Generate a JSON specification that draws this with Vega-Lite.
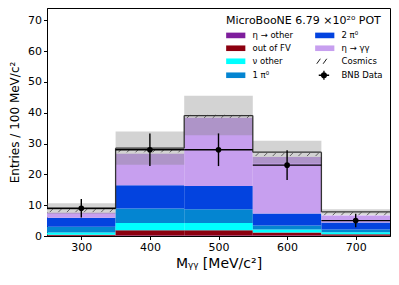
{
  "$schema": "https://vega.github.io/schema/vega-lite/v6.json",
  "width": 343,
  "height": 228,
  "autosize": "none",
  "padding": {"left": 47, "top": 8, "right": 9, "bottom": 49},
  "background": "white",
  "config": {
    "font": "DejaVu Sans",
    "view": {"stroke": "black", "strokeWidth": 1},
    "axis": {
      "grid": false,
      "domainColor": "black",
      "tickColor": "black",
      "labelColor": "black",
      "titleColor": "black",
      "tickSize": 3.5,
      "labelFontSize": 11,
      "labelPadding": 2,
      "titleFontWeight": "normal",
      "labelFont": "DejaVu Sans",
      "titleFont": "DejaVu Sans",
      "labelOverlap": false
    },
    "axisX": {"titleFontSize": 14, "titlePadding": 4},
    "axisY": {"titleFontSize": 12, "titlePadding": 6}
  },
  "datasets": {
    "stack": [
      {"bin": 300, "lo": 250, "hi": 350, "cat": "η → other", "value": 0.1},
      {"bin": 300, "lo": 250, "hi": 350, "cat": "out of FV", "value": 0.3},
      {"bin": 300, "lo": 250, "hi": 350, "cat": "ν other", "value": 0.7},
      {"bin": 300, "lo": 250, "hi": 350, "cat": "1 π⁰", "value": 1.9},
      {"bin": 300, "lo": 250, "hi": 350, "cat": "2 π⁰", "value": 2.9},
      {"bin": 300, "lo": 250, "hi": 350, "cat": "η → γγ", "value": 1.7},
      {"bin": 300, "lo": 250, "hi": 350, "cat": "Cosmics", "value": 1.3},
      {"bin": 400, "lo": 350, "hi": 450, "cat": "η → other", "value": 0.2},
      {"bin": 400, "lo": 350, "hi": 450, "cat": "out of FV", "value": 1.7},
      {"bin": 400, "lo": 350, "hi": 450, "cat": "ν other", "value": 2.3},
      {"bin": 400, "lo": 350, "hi": 450, "cat": "1 π⁰", "value": 4.7},
      {"bin": 400, "lo": 350, "hi": 450, "cat": "2 π⁰", "value": 7.6},
      {"bin": 400, "lo": 350, "hi": 450, "cat": "η → γγ", "value": 10.3},
      {"bin": 400, "lo": 350, "hi": 450, "cat": "Cosmics", "value": 1.7},
      {"bin": 500, "lo": 450, "hi": 550, "cat": "η → other", "value": 0.2},
      {"bin": 500, "lo": 450, "hi": 550, "cat": "out of FV", "value": 1.7},
      {"bin": 500, "lo": 450, "hi": 550, "cat": "ν other", "value": 2.3},
      {"bin": 500, "lo": 450, "hi": 550, "cat": "1 π⁰", "value": 4.5},
      {"bin": 500, "lo": 450, "hi": 550, "cat": "2 π⁰", "value": 7.5},
      {"bin": 500, "lo": 450, "hi": 550, "cat": "η → γγ", "value": 22.3},
      {"bin": 500, "lo": 450, "hi": 550, "cat": "Cosmics", "value": 0.6},
      {"bin": 600, "lo": 550, "hi": 650, "cat": "η → other", "value": 0.2},
      {"bin": 600, "lo": 550, "hi": 650, "cat": "out of FV", "value": 0.9},
      {"bin": 600, "lo": 550, "hi": 650, "cat": "ν other", "value": 1.0},
      {"bin": 600, "lo": 550, "hi": 650, "cat": "1 π⁰", "value": 1.3},
      {"bin": 600, "lo": 550, "hi": 650, "cat": "2 π⁰", "value": 3.9},
      {"bin": 600, "lo": 550, "hi": 650, "cat": "η → γγ", "value": 18.4},
      {"bin": 600, "lo": 550, "hi": 650, "cat": "Cosmics", "value": 1.5},
      {"bin": 700, "lo": 650, "hi": 750, "cat": "η → other", "value": 0.1},
      {"bin": 700, "lo": 650, "hi": 750, "cat": "out of FV", "value": 0.5},
      {"bin": 700, "lo": 650, "hi": 750, "cat": "ν other", "value": 0.6},
      {"bin": 700, "lo": 650, "hi": 750, "cat": "1 π⁰", "value": 0.9},
      {"bin": 700, "lo": 650, "hi": 750, "cat": "2 π⁰", "value": 2.3},
      {"bin": 700, "lo": 650, "hi": 750, "cat": "η → γγ", "value": 2.3},
      {"bin": 700, "lo": 650, "hi": 750, "cat": "Cosmics", "value": 1.1}
    ],
    "summary": [
      {"bin": 300, "lo": 250, "hi": 350, "total": 8.9, "err": 1.7, "data": 9, "derr": 3.0},
      {"bin": 400, "lo": 350, "hi": 450, "total": 28.5, "err": 5.4, "data": 28, "derr": 5.3},
      {"bin": 500, "lo": 450, "hi": 550, "total": 39.1, "err": 6.4, "data": 28, "derr": 5.3},
      {"bin": 600, "lo": 550, "hi": 650, "total": 27.2, "err": 3.7, "data": 23, "derr": 4.8},
      {"bin": 700, "lo": 650, "hi": 750, "total": 7.8, "err": 0.9, "data": 5, "derr": 2.2}
    ]
  },
  "layer": [
    {
      "data": {"name": "stack"},
      "transform": [
        {"calculate": "indexof(['η → other','out of FV','ν other','1 π⁰','2 π⁰','η → γγ','Cosmics'], datum.cat)", "as": "ord"},
        {"stack": "value", "groupby": ["bin"], "sort": [{"field": "ord", "order": "ascending"}], "as": ["y0", "y1"]}
      ],
      "mark": {"type": "rect", "strokeWidth": 0},
      "encoding": {
        "x": {"field": "lo", "type": "quantitative", "title": "Mᵧᵧ [MeV/c²]",
              "scale": {"domain": [250, 750], "nice": false, "zero": false},
              "axis": {"values": [300, 400, 500, 600, 700]}},
        "x2": {"field": "hi"},
        "y": {"field": "y0", "type": "quantitative", "title": "Entries / 100 MeV/c²",
              "scale": {"domain": [0, 74], "nice": false},
              "axis": {"values": [0, 10, 20, 30, 40, 50, 60, 70]}},
        "y2": {"field": "y1"},
        "color": {
          "field": "cat", "type": "nominal",
          "scale": {
            "domain": ["η → other", "out of FV", "ν other", "1 π⁰", "2 π⁰", "η → γγ", "Cosmics", "BNB Data"],
            "range": ["#7e1e9c", "#8c000f", "#00ffff", "#0485d1", "#0343df", "#c79fef", "#ffffff", "#000000"]
          },
          "legend": {
            "title": "MicroBooNE 6.79 ×10²⁰ POT",
            "orient": "top-right",
            "offset": 7,
            "padding": 0,
            "columns": 2,
            "columnPadding": 18,
            "rowPadding": 1,
            "symbolSize": 64,
            "symbolOffset": 5.5,
            "labelOffset": 12.5,
            "labelFontSize": 8.5,
            "labelFont": "DejaVu Sans",
            "labelColor": "black",
            "titleFontSize": 11,
            "titleFont": "DejaVu Sans",
            "titleFontWeight": "normal",
            "titleColor": "black",
            "titlePadding": 5,
            "encode": {
              "symbols": {
                "update": {
                  "shape": {"signal": "datum.value === 'Cosmics' ? 'M-2,0.625L-1.1,-0.625M-0.4,0.625L0.5,-0.625' : datum.value === 'BNB Data' ? 'M-0.8,0A0.6,0.6 0 1,0 0.4,0A0.6,0.6 0 1,0 -0.8,0ZM-1.5,0H1.1M-0.2,-1.1V1.1' : 'M-2.4,-0.7H2.4V0.7H-2.4Z'"},
                  "fill": {"signal": "datum.value === 'Cosmics' ? 'transparent' : scale('color', datum.value)"},
                  "stroke": {"signal": "datum.value === 'Cosmics' || datum.value === 'BNB Data' ? '#000000' : 'transparent'"},
                  "strokeWidth": {"signal": "datum.value === 'Cosmics' ? 0.9 : 1.3"},
                  "opacity": {"value": 1}
                }
              }
            }
          }
        }
      }
    },
    {
      "data": {"name": "stack"},
      "transform": [
        {"calculate": "indexof(['η → other','out of FV','ν other','1 π⁰','2 π⁰','η → γγ','Cosmics'], datum.cat)", "as": "ord"},
        {"stack": "value", "groupby": ["bin"], "sort": [{"field": "ord", "order": "ascending"}], "as": ["y0", "y1"]},
        {"filter": "datum.cat === 'Cosmics'"},
        {"calculate": "(datum.y0 + datum.y1) / 2", "as": "mid"}
      ],
      "mark": {
        "type": "point",
        "shape": "M-0.92,0.045L-0.83,-0.045M-0.67,0.045L-0.58,-0.045M-0.42,0.045L-0.33,-0.045M-0.17,0.045L-0.08,-0.045M0.08,0.045L0.17,-0.045M0.33,0.045L0.42,-0.045M0.58,0.045L0.67,-0.045M0.83,0.045L0.92,-0.045",
        "size": 4706,
        "filled": false,
        "stroke": "#222222",
        "strokeWidth": 0.8,
        "opacity": 1
      },
      "encoding": {
        "x": {"field": "bin", "type": "quantitative", "title": "Mᵧᵧ [MeV/c²]", "scale": {"domain": [250, 750], "nice": false, "zero": false}, "axis": {"values": [300, 400, 500, 600, 700]}},
        "y": {"field": "mid", "type": "quantitative", "title": "Entries / 100 MeV/c²", "scale": {"domain": [0, 74], "nice": false}, "axis": {"values": [0, 10, 20, 30, 40, 50, 60, 70]}}
      }
    },
    {
      "data": {"name": "summary"},
      "transform": [
        {"calculate": "datum.total - datum.err", "as": "blo"},
        {"calculate": "datum.total + datum.err", "as": "bhi"}
      ],
      "mark": {"type": "rect", "color": "#808080", "opacity": 0.35, "strokeWidth": 0},
      "encoding": {
        "x": {"field": "lo", "type": "quantitative", "title": "Mᵧᵧ [MeV/c²]", "scale": {"domain": [250, 750], "nice": false, "zero": false}, "axis": {"values": [300, 400, 500, 600, 700]}},
        "x2": {"field": "hi"},
        "y": {"field": "blo", "type": "quantitative", "title": "Entries / 100 MeV/c²", "scale": {"domain": [0, 74], "nice": false}, "axis": {"values": [0, 10, 20, 30, 40, 50, 60, 70]}},
        "y2": {"field": "bhi"}
      }
    },
    {
      "data": {"name": "summary"},
      "mark": {"type": "rule", "color": "#333333", "strokeWidth": 1.3},
      "encoding": {
        "x": {"field": "lo", "type": "quantitative", "title": "Mᵧᵧ [MeV/c²]", "scale": {"domain": [250, 750], "nice": false, "zero": false}, "axis": {"values": [300, 400, 500, 600, 700]}},
        "x2": {"field": "hi"},
        "y": {"field": "total", "type": "quantitative", "title": "Entries / 100 MeV/c²", "scale": {"domain": [0, 74], "nice": false}, "axis": {"values": [0, 10, 20, 30, 40, 50, 60, 70]}}
      }
    },
    {
      "data": {"name": "summary"},
      "transform": [
        {"window": [{"op": "lag", "field": "total", "as": "prev"}], "sort": [{"field": "bin", "order": "ascending"}]},
        {"filter": "datum.prev != null"}
      ],
      "mark": {"type": "rule", "color": "#333333", "strokeWidth": 1.3},
      "encoding": {
        "x": {"field": "lo", "type": "quantitative", "title": "Mᵧᵧ [MeV/c²]", "scale": {"domain": [250, 750], "nice": false, "zero": false}, "axis": {"values": [300, 400, 500, 600, 700]}},
        "y": {"field": "prev", "type": "quantitative", "title": "Entries / 100 MeV/c²", "scale": {"domain": [0, 74], "nice": false}, "axis": {"values": [0, 10, 20, 30, 40, 50, 60, 70]}},
        "y2": {"field": "total"}
      }
    },
    {
      "data": {"name": "summary"},
      "transform": [
        {"calculate": "datum.data - datum.derr", "as": "dlo"},
        {"calculate": "datum.data + datum.derr", "as": "dhi"}
      ],
      "mark": {"type": "rule", "color": "black", "strokeWidth": 1.4},
      "encoding": {
        "x": {"field": "bin", "type": "quantitative", "title": "Mᵧᵧ [MeV/c²]", "scale": {"domain": [250, 750], "nice": false, "zero": false}, "axis": {"values": [300, 400, 500, 600, 700]}},
        "y": {"field": "dlo", "type": "quantitative", "title": "Entries / 100 MeV/c²", "scale": {"domain": [0, 74], "nice": false}, "axis": {"values": [0, 10, 20, 30, 40, 50, 60, 70]}},
        "y2": {"field": "dhi"}
      }
    },
    {
      "data": {"name": "summary"},
      "mark": {"type": "rule", "color": "black", "strokeWidth": 1.4},
      "encoding": {
        "x": {"field": "lo", "type": "quantitative", "title": "Mᵧᵧ [MeV/c²]", "scale": {"domain": [250, 750], "nice": false, "zero": false}, "axis": {"values": [300, 400, 500, 600, 700]}},
        "x2": {"field": "hi"},
        "y": {"field": "data", "type": "quantitative", "title": "Entries / 100 MeV/c²", "scale": {"domain": [0, 74], "nice": false}, "axis": {"values": [0, 10, 20, 30, 40, 50, 60, 70]}}
      }
    },
    {
      "data": {"name": "summary"},
      "mark": {"type": "point", "shape": "circle", "filled": true, "color": "black", "size": 32, "opacity": 1},
      "encoding": {
        "x": {"field": "bin", "type": "quantitative", "title": "Mᵧᵧ [MeV/c²]", "scale": {"domain": [250, 750], "nice": false, "zero": false}, "axis": {"values": [300, 400, 500, 600, 700]}},
        "y": {"field": "data", "type": "quantitative", "title": "Entries / 100 MeV/c²", "scale": {"domain": [0, 74], "nice": false}, "axis": {"values": [0, 10, 20, 30, 40, 50, 60, 70]}}
      }
    }
  ]
}
